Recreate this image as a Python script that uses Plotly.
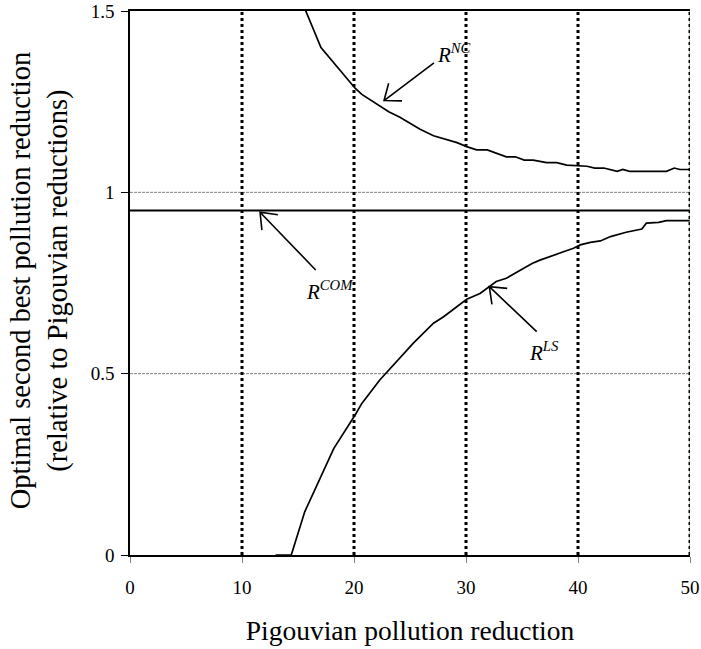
import plotly.graph_objects as go
import math

# ---- data ----
nc_x = [15.0, 17.05, 20.1, 20.7, 23.1, 24.1, 25.9, 27.1, 29.2, 30.06, 30.95, 31.9, 33.6, 34.4, 35.2,
        36.0, 37.2, 38.1, 39.0, 39.9, 40.8, 41.5, 42.3, 43.5, 44.0, 44.6, 47.9, 48.6, 49.1, 50]
nc_y = [1.552, 1.399, 1.287, 1.270, 1.222, 1.207, 1.174, 1.156, 1.137, 1.126, 1.117, 1.117, 1.098, 1.098, 1.089,
        1.089, 1.082, 1.082, 1.075, 1.074, 1.072, 1.067, 1.067, 1.058, 1.063, 1.058, 1.058, 1.067, 1.063, 1.063]

ls_x = [13.0, 14.4, 15.6, 18.2, 20.1, 20.7, 22.3, 24.1, 25.3, 27.1, 28.0, 30.06, 31.25, 32.7, 33.6,
        35.9, 36.6, 38.7, 39.6, 40.2, 41.1, 42.0, 42.9, 44.3, 45.7, 46.1, 47.2, 47.9, 50]
ls_y = [0, 0, 0.119, 0.294, 0.386, 0.418, 0.4825, 0.542, 0.584, 0.639, 0.657, 0.705, 0.721, 0.754, 0.763,
        0.804, 0.813, 0.836, 0.846, 0.855, 0.862, 0.866, 0.878, 0.890, 0.899, 0.915, 0.917, 0.922, 0.922]

com_x = [0, 50]
com_y = [0.95, 0.95]

x_ticks = [0, 10, 20, 30, 40, 50]
y_ticks = [0, 0.5, 1, 1.5]
y_tick_text = ["0", "0.5", "1", "1.5"]
vlines = [10, 20, 30, 40, 50]
hgrid = [0.5, 1]

x_title = "Pigouvian pollution reduction"
y_title = "Optimal second best pollution reduction<br>(relative to Pigouvian reductions)"

labels = ["NC", "COM", "LS"]
label_pos = [(27.2, 1.383), (15.55, 0.73), (35.45, 0.562)]
arrow_tail = [(27.14, 1.357), (16.58, 0.786), (36.31, 0.616)]
arrow_tip = [(22.68, 1.253), (11.61, 0.945), (32.08, 0.740)]

# ---- layout geometry ----
W, H = 701, 649
ML, MR, MT, MB = 130, 11, 11, 94
XR = [0, 50]
YR = [0, 1.5]
pw = W - ML - MR
ph = H - MT - MB
sx = pw / (XR[1] - XR[0])
sy = ph / (YR[1] - YR[0])

FONT = "Liberation Serif"

fig = go.Figure()

fig.add_trace(go.Scatter(x=com_x, y=com_y, mode="lines", line=dict(color="black", width=2), showlegend=False))
fig.add_trace(go.Scatter(x=nc_x, y=nc_y, mode="lines", line=dict(color="black", width=1.7), showlegend=False))
fig.add_trace(go.Scatter(x=ls_x, y=ls_y, mode="lines", line=dict(color="black", width=1.7), showlegend=False))

shapes = []
for g in hgrid:
    shapes.append(dict(type="line", xref="x", yref="y", x0=XR[0], x1=XR[1], y0=g, y1=g,
                       line=dict(color="#808080", width=1, dash="3px,1px"), layer="below"))
shapes.append(dict(type="line", xref="x", yref="y", x0=XR[1], x1=XR[1], y0=YR[0], y1=YR[1],
                   line=dict(color="#808080", width=1)))
for v in vlines:
    shapes.append(dict(type="line", xref="x", yref="y", x0=v, x1=v, y0=YR[0], y1=YR[1],
                       line=dict(color="black", width=3, dash="3px,3px")))

BARB = 18
SPREAD = math.radians(38)
for (tx, ty), (hx, hy) in zip(arrow_tail, arrow_tip):
    dx = (tx - hx) * sx
    dy = -(ty - hy) * sy
    ang = math.atan2(dy, dx)
    pts = []
    for s in (SPREAD, -SPREAD):
        bx = hx + BARB * math.cos(ang + s) / sx
        by = hy - BARB * math.sin(ang + s) / sy
        pts.append((bx, by))
    path = (f"M {tx},{ty} L {hx},{hy} M {pts[0][0]},{pts[0][1]} L {hx},{hy} L {pts[1][0]},{pts[1][1]}")
    shapes.append(dict(type="path", xref="x", yref="y", path=path, line=dict(color="black", width=1.6)))

annotations = []
for lab, (lx, ly) in zip(labels, label_pos):
    annotations.append(dict(x=lx, y=ly, xref="x", yref="y", showarrow=False,
                            xanchor="left", yanchor="middle",
                            text=f"<i>R</i><sup><i>{lab}</i></sup>",
                            font=dict(family=FONT, size=21, color="black")))
# y-axis title as rotated paper annotation (centre of the two lines ~39px from page left)
annotations.append(dict(x=(39 - ML) / pw, y=0.505, xref="paper", yref="paper", showarrow=False,
                        xanchor="center", yanchor="middle", textangle=-90, text=y_title,
                        font=dict(family=FONT, size=28.5, color="black")))

fig.update_layout(
    template="none",
    width=W, height=H,
    margin=dict(l=ML, r=MR, t=MT, b=MB, autoexpand=False),
    paper_bgcolor="white", plot_bgcolor="white",
    shapes=shapes, annotations=annotations,
    font=dict(family=FONT, color="black", size=19),
    xaxis=dict(range=XR, tickvals=x_ticks, ticks="outside", ticklen=6, tickcolor="#808080",
               showgrid=False, zeroline=False, showline=True, linecolor="black", linewidth=1.5,
               mirror=True, automargin=False, ticklabeloverflow="allow",
               tickfont=dict(family=FONT, size=19, color="black"),
               ticklabelstandoff=8,
               title=dict(text=x_title, font=dict(family=FONT, size=27.5), standoff=24)),
    yaxis=dict(range=YR, tickvals=y_ticks, ticktext=y_tick_text, ticks="outside", ticklen=7,
               tickcolor="black", showgrid=False, zeroline=False, showline=True, linecolor="black",
               linewidth=1.5, automargin=False, ticklabeloverflow="allow",
               tickfont=dict(family=FONT, size=19, color="black"),
               ticklabelstandoff=3),
)

fig.write_html("out.html", config={"displayModeBar": False},
               post_script="document.body.style.margin='0px';")
